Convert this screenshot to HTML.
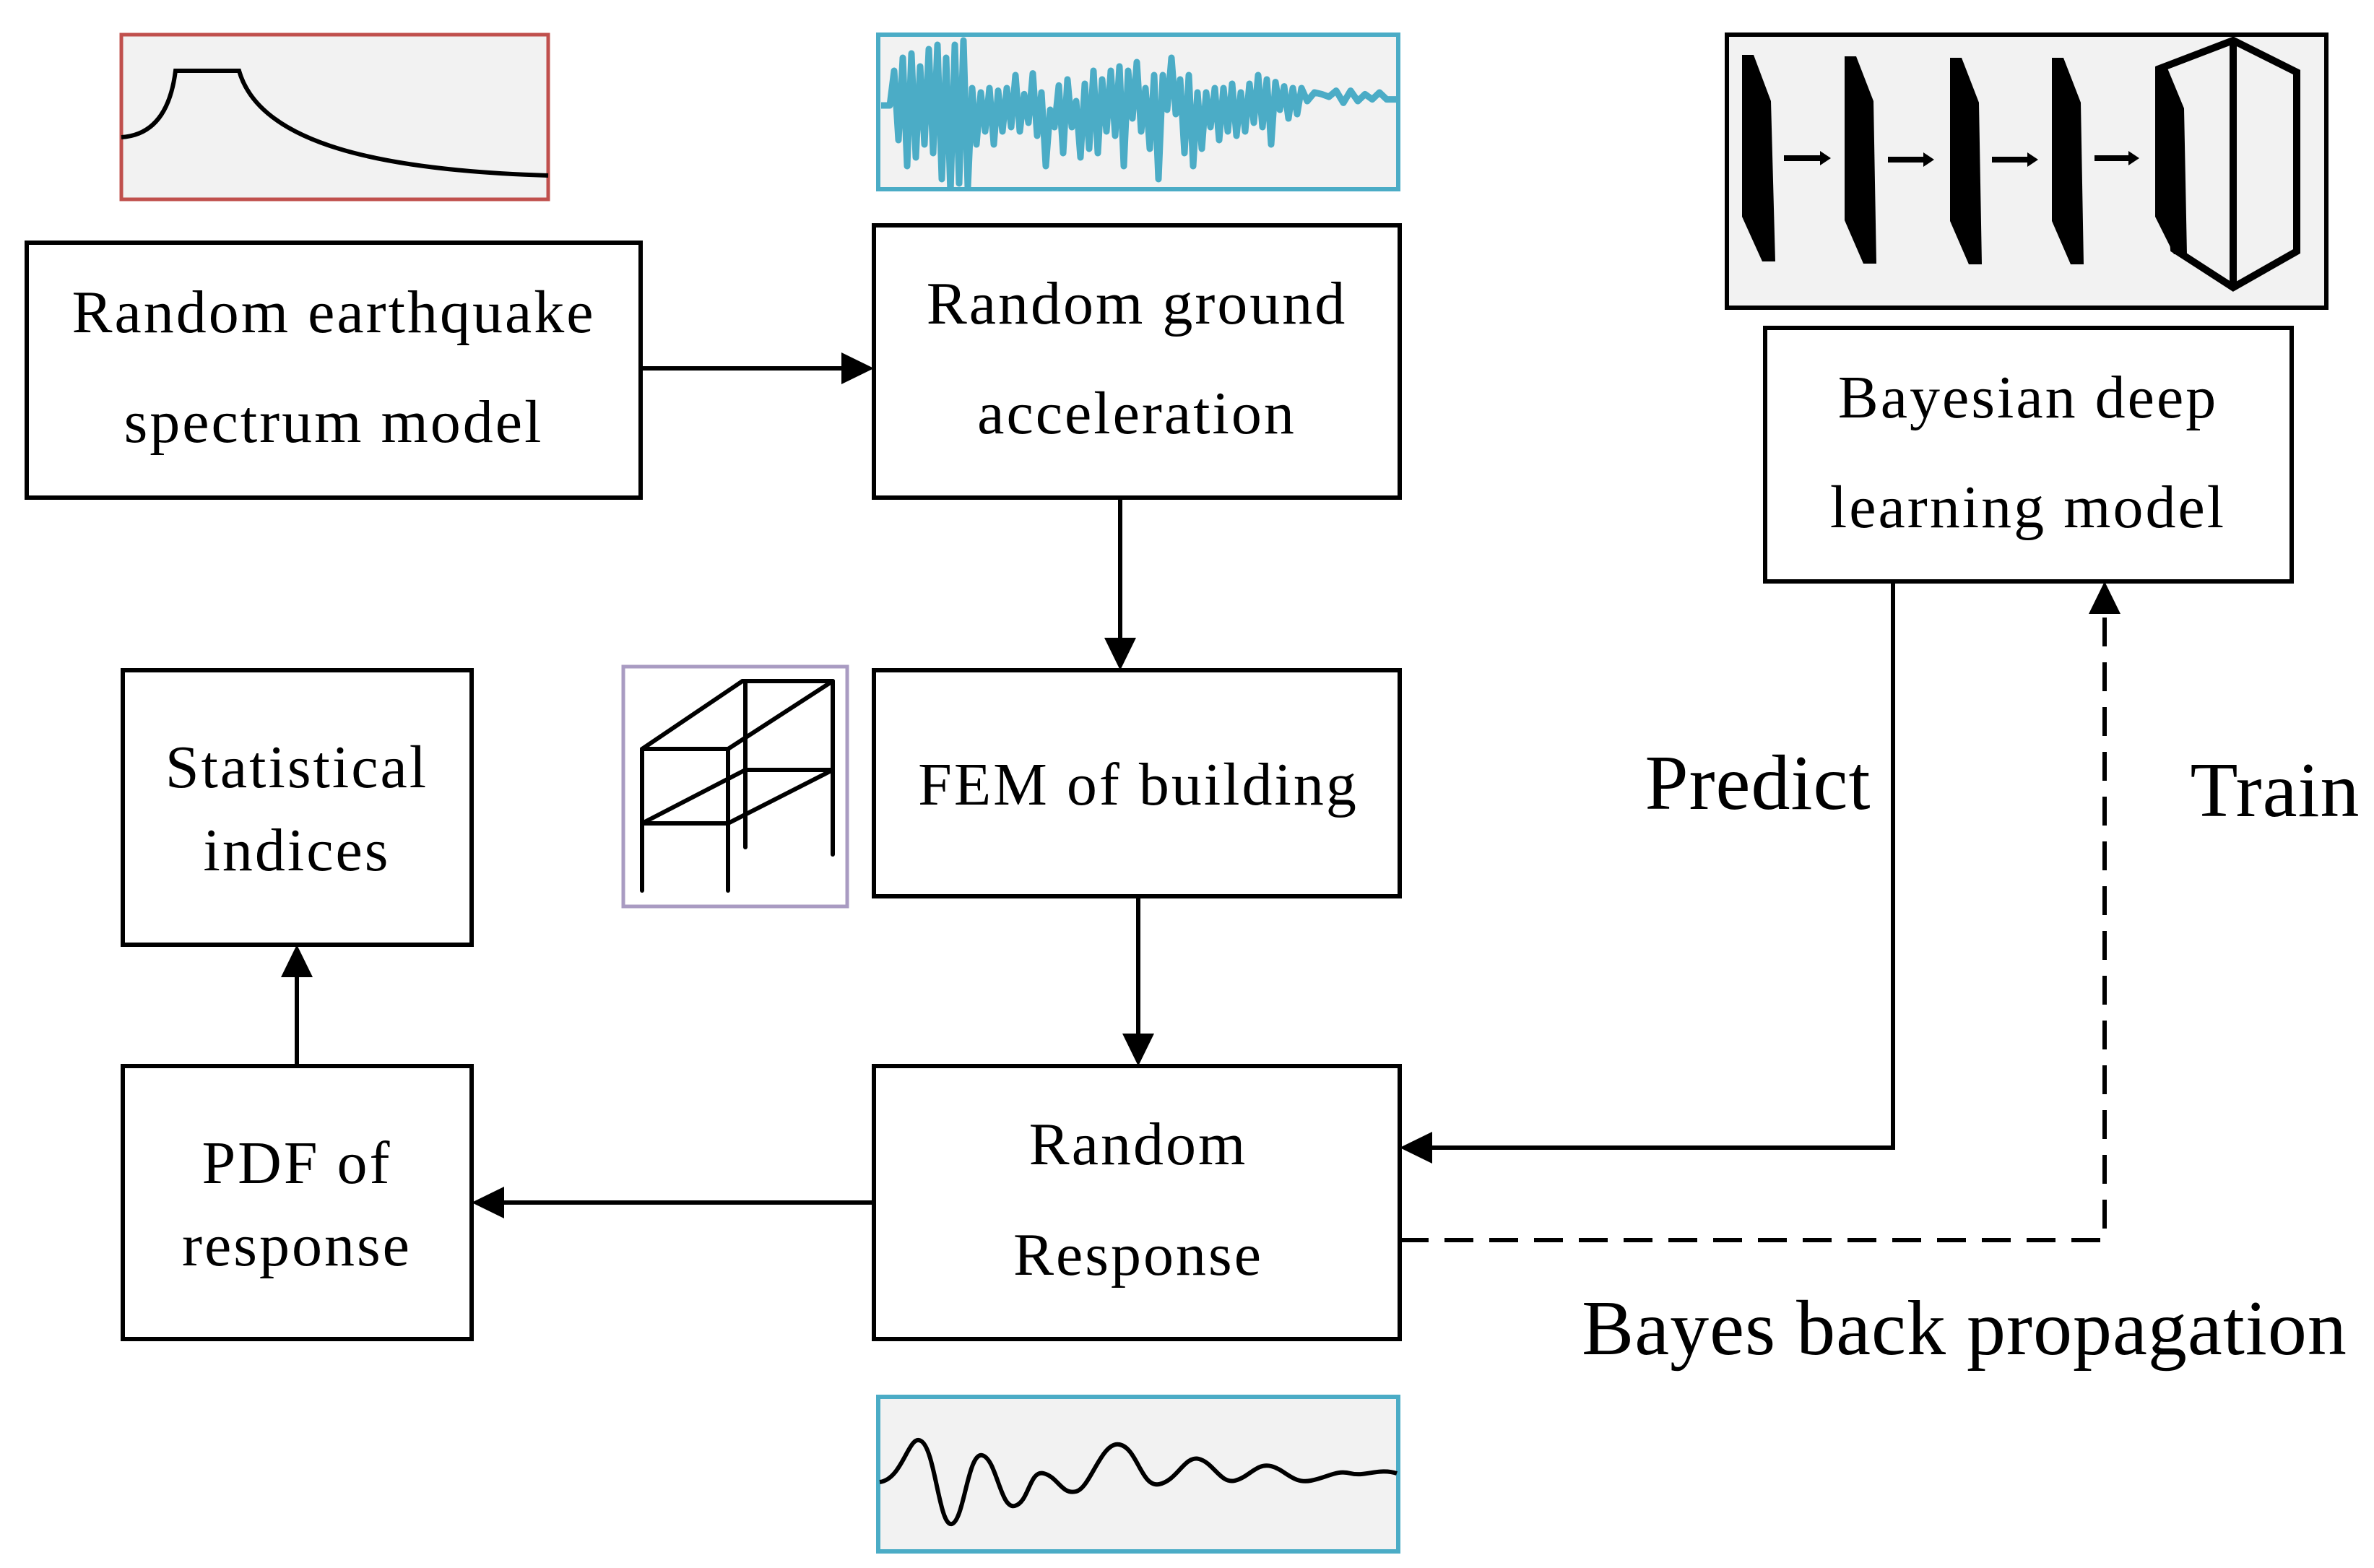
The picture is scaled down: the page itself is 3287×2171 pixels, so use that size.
<!DOCTYPE html>
<html><head><meta charset="utf-8"><style>
html,body{margin:0;padding:0;background:#fff;}
svg{display:block;}
text{font-family:"Liberation Serif",serif;fill:#000;}
</style></head><body>
<svg width="3287" height="2171" viewBox="0 0 3287 2171" xmlns="http://www.w3.org/2000/svg">
<defs><clipPath id="wc"><rect x="1219" y="51" width="714" height="208"/></clipPath></defs>
<!-- top-left spectrum image -->
<rect x="168" y="48" width="591" height="228" fill="#f2f2f2" stroke="#c0504d" stroke-width="5"/>
<path d="M168,190 Q232,186 243,98 L331,98 C360,200 530,236 759,243" fill="none" stroke="#000" stroke-width="6"/>
<!-- top wave -->
<rect x="1216" y="48" width="720" height="214" fill="#f2f2f2" stroke="#4bacc6" stroke-width="6"/>
<g clip-path="url(#wc)"><g transform="translate(0,140) scale(1,1.2) translate(0,-140)">
<polyline fill="none" stroke="#4bacc6" stroke-width="9" vector-effect="non-scaling-stroke" stroke-linejoin="round" points="1220,145 1232,145 1238,105 1244,185 1250,90 1256,215 1262,85 1268,205 1274,100 1280,190 1286,80 1292,200 1298,75 1304,230 1310,90 1316,245 1322,75 1328,235 1334,70 1340,240 1346,125 1352,190 1358,130 1364,175 1370,125 1376,190 1382,128 1388,175 1394,125 1400,170 1406,110 1412,175 1418,132 1424,165 1430,108 1436,180 1442,130 1448,215 1454,150 1460,170 1466,122 1472,200 1478,115 1484,170 1490,140 1496,205 1502,120 1508,195 1514,105 1520,200 1526,115 1532,175 1538,105 1544,180 1550,100 1556,215 1562,105 1568,160 1574,95 1580,175 1586,125 1592,195 1598,110 1604,230 1610,110 1616,150 1622,90 1628,155 1634,115 1640,200 1646,110 1652,215 1658,130 1664,195 1670,130 1676,170 1682,125 1688,185 1694,125 1700,175 1706,120 1712,180 1718,130 1724,175 1730,120 1736,165 1742,110 1748,170 1754,115 1760,190 1766,118 1772,150 1778,123 1784,160 1790,125 1796,155 1802,125 1810,140 1820,130 1830,132 1840,135 1850,128 1860,142 1870,128 1880,140 1890,132 1900,138 1910,130 1920,138 1934,138"/>
</g></g>
<!-- NN box -->
<rect x="2391" y="48" width="830" height="378" fill="#f2f2f2" stroke="#000" stroke-width="6"/>
<g fill="#000">
<polygon points="2412,76 2428,76 2452,140 2458,362 2440,362 2412,300"/>
<polygon points="2554,78 2570,78 2594,140 2598,365 2580,365 2554,305"/>
<polygon points="2700,80 2716,80 2740,142 2744,366 2726,366 2700,306"/>
<polygon points="2841,80 2857,80 2881,142 2885,366 2867,366 2841,306"/>
<polygon points="2984,92 3000,92 3024,150 3028,352 3010,352 2984,300"/>
</g>
<g stroke="#000" stroke-width="8" fill="none">
<line x1="2470" y1="219" x2="2525" y2="219"/><line x1="2614" y1="221" x2="2668" y2="221"/><line x1="2758" y1="221" x2="2812" y2="221"/><line x1="2900" y1="219" x2="2952" y2="219"/>
<polygon points="2990,95 3092,56 3180,100 3180,348 3092,398 3010,345" stroke-width="10"/>
<line x1="3092" y1="56" x2="3092" y2="398" stroke-width="10"/>
</g>
<g fill="#000"><polygon points="2520,209 2535,219 2520,229"/><polygon points="2663,211 2678,221 2663,231"/><polygon points="2807,211 2822,221 2807,231"/><polygon points="2947,209 2962,219 2947,229"/></g>
<!-- boxes -->
<g fill="#fff" stroke="#000" stroke-width="6">
<rect x="37" y="336" width="850" height="353"/>
<rect x="1210" y="312" width="728" height="377"/>
<rect x="2444" y="454" width="729" height="351"/>
<rect x="170" y="928" width="483" height="380"/>
<rect x="1210" y="928" width="728" height="313"/>
<rect x="170" y="1476" width="483" height="378"/>
<rect x="1210" y="1476" width="728" height="378"/>
</g>
<!-- frame -->
<rect x="863" y="923" width="310" height="332" fill="#fff" stroke="#a99bc2" stroke-width="5"/>
<g stroke="#000" stroke-width="6" stroke-linecap="round" fill="none">
<line x1="889" y1="1037" x2="1008" y2="1037"/><line x1="889" y1="1037" x2="1028" y2="943"/><line x1="1028" y1="943" x2="1153" y2="943"/><line x1="1008" y1="1037" x2="1153" y2="943"/>
<line x1="889" y1="1140" x2="1008" y2="1140"/><line x1="889" y1="1140" x2="1032" y2="1066"/><line x1="1032" y1="1066" x2="1153" y2="1066"/><line x1="1008" y1="1140" x2="1153" y2="1066"/>
<line x1="889" y1="1037" x2="889" y2="1233"/><line x1="1008" y1="1037" x2="1008" y2="1233"/><line x1="1032" y1="943" x2="1032" y2="1173"/><line x1="1153" y1="943" x2="1153" y2="1183"/>
</g>
<!-- bottom wave -->
<rect x="1216" y="1934" width="720" height="214" fill="#f2f2f2" stroke="#4bacc6" stroke-width="6"/>
<path d="M1218,2052 C1250,2048 1258,1985 1275,1995 C1295,2005 1300,2115 1318,2110 C1335,2105 1340,2010 1360,2015 C1380,2020 1385,2090 1405,2085 C1425,2080 1425,2035 1445,2040 C1465,2045 1470,2070 1490,2065 C1510,2060 1525,1995 1550,2000 C1575,2005 1580,2060 1605,2055 C1630,2050 1640,2015 1660,2020 C1680,2025 1690,2055 1710,2050 C1730,2045 1740,2025 1760,2030 C1780,2035 1790,2055 1815,2050 C1840,2045 1850,2035 1870,2040 C1890,2045 1910,2032 1934,2040" fill="none" stroke="#000" stroke-width="6"/>
<!-- connectors -->
<g stroke="#000" stroke-width="6" fill="none">
<line x1="887" y1="510" x2="1170" y2="510"/>
<line x1="1551" y1="689" x2="1551" y2="890"/>
<line x1="1576" y1="1241" x2="1576" y2="1438"/>
<line x1="1210" y1="1665" x2="690" y2="1665"/>
<line x1="411" y1="1476" x2="411" y2="1345"/>
<polyline points="2621,805 2621,1589 1975,1589"/>
<polyline points="1938,1717 2914,1717 2914,842" stroke-dasharray="40,22"/>
</g>
<g fill="#000">
<polygon points="1210,510 1165,488 1165,532"/>
<polygon points="1551,928 1529,883 1573,883"/>
<polygon points="1576,1476 1554,1431 1598,1431"/>
<polygon points="653,1665 698,1643 698,1687"/>
<polygon points="411,1308 389,1353 433,1353"/>
<polygon points="1938,1589 1983,1567 1983,1611"/>
<polygon points="2914,805 2892,850 2936,850"/>
</g>
<!-- labels -->
<g font-size="84" text-anchor="middle" letter-spacing="3">
<text x="462" y="460">Random earthquake</text>
<text x="462" y="612">spectrum model</text>
<text x="1574" y="448">Random ground</text>
<text x="1574" y="600">acceleration</text>
<text x="2808" y="578">Bayesian deep</text>
<text x="2808" y="730">learning model</text>
<text x="411" y="1090">Statistical</text>
<text x="411" y="1205">indices</text>
<text x="1576" y="1114">FEM of building</text>
<text x="411" y="1638">PDF of</text>
<text x="411" y="1752">response</text>
<text x="1576" y="1612">Random</text>
<text x="1576" y="1765">Response</text>
</g>
<g font-size="108" text-anchor="middle" letter-spacing="1">
<text x="2434" y="1120">Predict</text>
<text x="3150" y="1130">Train</text>
<text x="2720" y="1875">Bayes back propagation</text>
</g>
</svg>
</body></html>
